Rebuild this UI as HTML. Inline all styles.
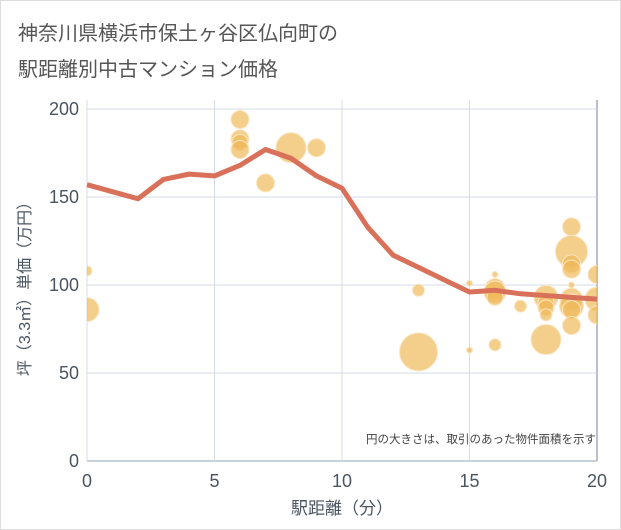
<!DOCTYPE html>
<html><head><meta charset="utf-8"><style>
body{margin:0;background:#fff;}
svg{display:block;font-family:"Liberation Sans","Noto Sans CJK JP",sans-serif;}
</style></head><body>
<svg width="621" height="530">
<rect x="0.5" y="0.5" width="620" height="529" fill="#fff" stroke="#ddd"/>
<text x="18" y="40" font-size="20" fill="#555">神奈川県横浜市保土ヶ谷区仏向町の</text>
<text x="18" y="76" font-size="20" fill="#555">駅距離別中古マンション価格</text>
<g id="grid"></g>
<g id="axes"></g>
<defs><clipPath id="clip"><rect x="87" y="100" width="510" height="361"/></clipPath></defs>
<g id="bubbles" clip-path="url(#clip)"></g>
<g id="line"></g>
<text x="596" y="443" font-size="11.5" fill="#444" text-anchor="end">円の大きさは、取引のあった物件面積を示す</text>
<text x="342" y="514" font-size="17" fill="#4a5560" text-anchor="middle">駅距離（分）</text>
<text transform="translate(30,285) rotate(-90)" font-size="16" fill="#4a5560" text-anchor="middle">坪（3.3㎡）単価（万円）</text>
</svg>
<script>
const xTicks=[0,5,10,15,20];
const yTicks=[0,50,100,150,200];
const bubbleX=[0,0,6,6,6,6,7,8,9,13,13,15,15,16,16,16,16,16,17,18,18,18,18,18,19,19,19,19,19,19,19,19,19,20,20,20];
const bubbleY=[108,86,194,183,181,177,158,178,178,97,62,101,63,106,98,96,93,66,88,93,90,87,83,69,133,119,112,109,100,92,88,86,77,106,92,83];
const bubbleR=[5,12,9,9,8,9,9,15,9,6,19,3,3,3,10,11,8,6,6,12,8,8,6,15,9,16,9,9,3,11,12,9,9,9,12,9];
const lineX=[0,2,3,4,5,6,7,8,9,10,11,12,13,14,15,16,17,18,19,20];
const lineY=[157,149,160,163,162,168,177,172,162,155,133,117,110,103,96,97,95,94,93,92];
const NS="http://www.w3.org/2000/svg";
const sx=v=>87+v*25.5, sy=v=>461-v*1.76;
function mk(t,a,p){const e=document.createElementNS(NS,t);for(const k in a)e.setAttribute(k,a[k]);p.appendChild(e);return e;}
const grid=document.getElementById('grid'),axes=document.getElementById('axes');
yTicks.forEach(v=>{
 const l=mk('line',{x1:87,x2:597,y1:sy(v),y2:sy(v),stroke:v===0?'#c8d0da':'#d5dbe3','stroke-width':v===0?2:1},grid);
 
 
 const t=mk('text',{x:79,y:sy(v)+6,'font-size':18,fill:'#4a5560','text-anchor':'end'},axes);
 t.textContent=v;
 
 
});
xTicks.forEach(v=>{
 const l=mk('line',{x1:sx(v),x2:sx(v),y1:100,y2:461,stroke:v===20?'#b8c0cc':'#d5dbe3','stroke-width':v===20?2:1},grid);
 
 
 const t=mk('text',{x:sx(v),y:487,'font-size':18,fill:'#4a5560','text-anchor':'middle'},axes);
 t.textContent=v;
 
 
});
const bg=document.getElementById('bubbles');
bubbleX.forEach((x,i)=>{
 const c=mk('circle',{cx:sx(x),cy:sy(bubbleY[i]),r:bubbleR[i],fill:'#f0b95a','fill-opacity':0.7,stroke:'#fbe6c4','stroke-width':1},bg);
 
 
});
const lg=document.getElementById('line');
const p=mk('polyline',{points:lineX.map((x,i)=>sx(x)+','+sy(lineY[i])).join(' '),fill:'none',stroke:'#d9705a','stroke-width':5,'stroke-linejoin':'round'},lg);


</script>
</body></html>
